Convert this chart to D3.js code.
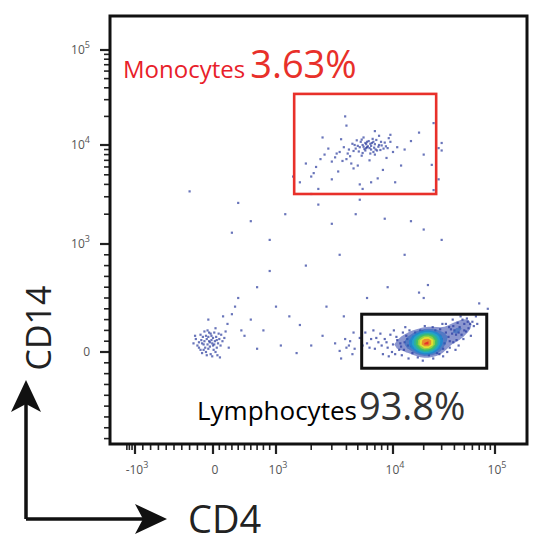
<!DOCTYPE html>
<html>
<head>
<meta charset="utf-8">
<script src="https://cdn.jsdelivr.net/npm/d3@7.9.0/dist/d3.min.js"></script>
<style>
  body { margin: 0; background: #fff; }
  svg { display: block; font-family: "Open Sans", Arial, sans-serif; }
</style>
</head>
<body>
<svg id="chart" width="553" height="547"></svg>
<script>
// events as [CD4, CD14] fluorescence intensities
const lymphocytes = [
  [21000,80],[19000,60],[23000,110],[25000,40],[18000,120],[22000,20],[20000,150],[26000,90],[17000,70],[24000,130],
  [16000,40],[28000,60],[15000,100],[30000,120],[14000,60],[27000,-10],[19500,190],[22500,-30],[13000,90],[32000,80],
  [12000,50],[35000,140],[11000,110],[38000,170],[10000,70],[40000,200],[9000,40],[42000,110],[8500,120],[45000,230],
  [8000,60],[47000,160],[7500,90],[50000,260],[7000,30],[52000,190],[6500,120],[55000,220],[6000,80],[33000,260],
  [9500,160],[36000,40],[10500,-20],[29000,210],[12500,180],[31000,-40],[14500,200],[24500,230],[17500,-50],[20500,240],
  [11500,20],[13500,150],[15500,-10],[18500,200],[26500,170],[34000,0],[37000,210],[43000,270],[48000,300],[9200,-40],
  [7800,170],[6800,200],[21500,100],[20800,70],[22800,90],[19800,110],[23500,60],[21200,140],[18800,90],[24200,100],
  [20200,40],[22200,130],[16800,110],[25500,120],[17800,30],[27500,100],[15800,140],[19200,10],[23800,170],[21800,50],
  [60000,280],[58000,150],[44000,60],[39000,90],[41000,20],[5500,60],[5200,130],[62000,240],[46000,330],[53000,310],
  [21000,90],[20500,75],[21800,85],[19800,80],[22500,95],[20000,100],[21300,60],[22000,70],[20800,110],[19300,95],
  [23000,85],[18500,75],[21500,120],[20300,50],[22800,60],[19000,115],[24000,80],[18000,95],[21000,40],[23500,120],
  [17000,90],[25500,75],[16000,70],[27000,120],[15000,55],[29000,150],[13800,120],[31000,30],[12800,20],[26000,200],
  [11800,80],[33000,180],[10800,140],[36000,100],[9800,0],[39000,240],[8800,90],[44000,180],[7200,130],[50000,200],
  [14200,-60],[24800,-60],[16500,180],[28500,-20],[12200,-30],[35500,230],[8200,-20],[41500,160],[6300,40],[57000,260],
  [49000,120],[54000,280],[65000,330],[67000,260],[5800,180],[10200,200],[30500,260],[13200,230],[38500,300],[19600,-80]
];
const monocytes = [
  [6000,9500],[5500,10000],[6500,9000],[5000,9800],[7000,10200],[5800,8800],[6200,11000],[4800,9200],[7500,9600],[5300,10800],
  [6800,8500],[4500,10300],[8000,9900],[5600,12000],[6400,8200],[4200,9000],[7200,11300],[5100,8600],[8500,10600],[3800,9500],
  [6600,10500],[5900,9300],[4900,11200],[7800,8900],[5400,7800],[3500,8500],[3200,7500],[2800,9200],[3000,6800],[2600,8000],
  [4000,7200],[9000,9300],[9500,10800],[10000,8500],[4400,6500],[3600,11500],[2400,7200],[6300,7000],[7600,12500],[5000,6200],
  [2200,6000],[2100,5200],[2000,4800],[3400,5400],[4600,5800],[11000,9500],[8800,7400],[12000,6200],[2500,12000],[7000,14000],
  [15000,11000],[20000,8000],[24000,6300],[30000,10500],[28000,4500],[4000,16000],[9500,12800],[3000,4500],[8200,5600],[13000,9000],
  [6100,9700],[5700,9100],[6900,9400],[6400,10300],[5200,9500],[7300,8800],[6700,11600],[5500,8300],[7900,10800],[4600,8700],
  [8300,9200],[6000,10800],[7100,9000],[5900,10200],[6500,9800],[4300,7700],[3700,6900],[3300,8200],[9200,11800],[1800,6500],
  [1600,4200],[2300,3600],[5200,4000],[7400,4600],[10500,4200],[25000,17000],[3900,20000],[18000,13500],
  [6300,9300],[5600,9600],[7600,10000],[4700,10000],[6800,10800],[5400,11400],[8700,9700],[4100,8200],[7000,8000],[5800,10500]
];
const doubleNegative = [
  [-40,90],[-80,120],[0,60],[-120,70],[30,100],[-60,30],[-150,110],[50,140],[-20,150],[-100,40],
  [10,20],[-180,90],[80,80],[-50,180],[-130,140],[60,40],[-200,60],[20,180],[-90,0],[100,120],
  [-30,-20],[-160,20],[120,60],[-70,200],[40,220],[-220,120],[150,100],[-10,-40],[-110,190],[90,170],
  [-250,80],[180,130],[-140,-10],[70,-30],[200,190],[230,260],[160,330],[-60,300],[250,40],[110,-50],
  [-50,100],[-70,70],[-20,110],[-110,100],[0,130],[-90,150],[-40,50],[-140,80],[20,70],[-60,140],
  [-180,40],[60,110],[-30,170],[-120,20],[130,160],[-230,150],[-80,-30],[40,0],[-10,80],[-160,160]
];
const scattered = [
  [400,2600],[600,1700],[300,1300],[900,1100],[1400,4800],[2000,3200],[2300,2500],[1200,2000],[3000,1600],[4800,2000],
  [5500,3600],[5200,2800],[8500,1800],[3500,900],[1800,800],[900,750],[700,600],[400,500],[300,350],[600,300],
  [1000,420],[1600,250],[2500,150],[3200,80],[4000,40],[4300,100],[1100,60],[700,30],[1500,-10],[2000,60],
  [15000,1700],[20000,1400],[30000,1100],[13000,900],[18000,550],[70000,450],[85000,400],[9000,600],[6000,500],[3800,330],
  [1300,330],[800,200],[500,150],[2700,420],[4600,180],[3500,10],[25000,3500],[6500,4200],[28000,9300],[30000,8800],
  [4200,60],[4500,-20],[3900,120],[4700,30],[3600,-60],[20000,500],[22000,620],[-300,3400],[350,420],[450,200]
];

const xTickVals = [-1000, 0, 1000, 10000, 100000];
const yTickVals = [0, 1000, 10000, 100000];
const gateMono = { x: [1430, 26500], y: [3200, 34500], name: "Monocytes", pct: "3.63%" };
const gateLymph = { x: [5400, 83000], y: [-150, 350], name: "Lymphocytes", pct: "93.8%" };

// display transform: linear around zero, log above |1000|
function dec(v) {
  const a = Math.abs(v);
  const d = a <= 1000 ? a / 1000 : Math.log10(a) - 2;
  return v < 0 ? -d : d;
}
const x = d3.scaleLinear().domain([-1.35, -1, 0, 1, 2, 3, 3.31]).range([110, 135, 213, 276, 393, 495, 527]);
const y = d3.scaleLinear().domain([-0.85, 0, 1, 2, 3, 3.36]).range([444, 352, 244, 145, 50, 16]);
const px = v => x(dec(v)), py = v => y(dec(v));

const svg = d3.select("#chart");

// minor ticks for log decades and linear region
function minorTicks(maxDec) {
  const t = [];
  for (let e = 3; e < maxDec; e++) for (let m = 2; m <= 9; m++) t.push(m * 10 ** e);
  for (let v = -900; v <= 900; v += 100) if (v !== 0) t.push(v);
  return t;
}

// y axis
const gy = svg.append("g");
gy.append("g").selectAll("line").data(minorTicks(5).concat([-1000]).filter(v => py(v) > 18 && py(v) < 442))
  .join("line").attr("x1", 104).attr("x2", 110).attr("y1", py).attr("y2", py)
  .attr("stroke", "#222").attr("stroke-width", 1.6);
gy.append("g").selectAll("line").data(yTickVals)
  .join("line").attr("x1", 100).attr("x2", 110).attr("y1", py).attr("y2", py)
  .attr("stroke", "#222").attr("stroke-width", 2.2);

// x axis
const gx = svg.append("g");
gx.append("g").selectAll("line").data(minorTicks(5).concat([-1100, -1200, -1300]).filter(v => px(v) > 112 && px(v) < 525))
  .join("line").attr("y1", 444).attr("y2", 450).attr("x1", px).attr("x2", px)
  .attr("stroke", "#222").attr("stroke-width", 1.6);
gx.append("g").selectAll("line").data(xTickVals)
  .join("line").attr("y1", 444).attr("y2", 454).attr("x1", px).attr("x2", px)
  .attr("stroke", "#222").attr("stroke-width", 2.2);

function tickLabel(g, v, tx, ty, anchor) {
  const t = g.append("text").attr("x", tx).attr("y", ty).attr("text-anchor", anchor)
    .attr("fill", "#555").attr("font-size", 12);
  if (v === 0) { t.text("0"); return; }
  const e = Math.round(Math.log10(Math.abs(v)));
  t.append("tspan").text((v < 0 ? "-" : "") + "10");
  t.append("tspan").attr("dy", -6).attr("font-size", 9).text(e);
}
yTickVals.forEach(v => tickLabel(gy, v, 90, py(v) + 4, "end"));
xTickVals.forEach(v => tickLabel(gx, v, px(v) + 2, 474, "middle"));

// frame
svg.append("rect").attr("x", x(-1.35)).attr("y", y(3.36))
  .attr("width", x(3.31) - x(-1.35)).attr("height", y(-0.85) - y(3.36))
  .attr("fill", "none").attr("stroke", "#111").attr("stroke-width", 3);

// events
const dotColor = "#2a3b9c";
const dot = 2.2;
const others = monocytes.concat(doubleNegative, scattered);
svg.append("g").selectAll("rect").data(others).join("rect")
  .attr("x", d => px(d[0]) - dot / 2).attr("y", d => py(d[1]) - dot / 2)
  .attr("width", dot).attr("height", dot).attr("fill", dotColor).attr("opacity", 0.7);

// lymphocyte events, then density core as filled contours
svg.append("g").selectAll("rect").data(lymphocytes).join("rect")
  .attr("x", d => px(d[0]) - dot / 2).attr("y", d => py(d[1]) - dot / 2)
  .attr("width", dot).attr("height", dot).attr("fill", dotColor).attr("opacity", 0.75);
const lp = lymphocytes.map(d => [px(d[0]), py(d[1])]);
const contours = d3.contourDensity().x(d => d[0]).y(d => d[1])
  .size([553, 547]).bandwidth(5).thresholds(12)(lp);
const n = contours.length;
const pal = d3.scaleLinear().domain([0, 0.3, 0.55, 0.78, 1])
  .range(["#2c3fa8", "#1fa0d8", "#40c060", "#e8e030", "#e8302a"]);
svg.append("g").selectAll("path").data(contours.slice(2)).join("path")
  .attr("d", d3.geoPath()).attr("fill", (d, i) => pal(i / (n - 3)))
  .attr("opacity", (d, i) => i < 2 ? 0.55 : 0.95);

// gates
svg.append("rect").attr("x", px(gateMono.x[0])).attr("y", py(gateMono.y[1]))
  .attr("width", px(gateMono.x[1]) - px(gateMono.x[0])).attr("height", py(gateMono.y[0]) - py(gateMono.y[1]))
  .attr("fill", "none").attr("stroke", "#e8302a").attr("stroke-width", 2.6);
svg.append("rect").attr("x", px(gateLymph.x[0])).attr("y", py(gateLymph.y[1]))
  .attr("width", px(gateLymph.x[1]) - px(gateLymph.x[0])).attr("height", py(gateLymph.y[0]) - py(gateLymph.y[1]))
  .attr("fill", "none").attr("stroke", "#111").attr("stroke-width", 3);

// gate labels
const ml = svg.append("text").attr("x", 123).attr("y", 78);
ml.append("tspan").attr("fill", "#e8202a").attr("font-size", 24).text(gateMono.name);
ml.append("tspan").attr("fill", "#e8302a").attr("font-size", 38).attr("dx", 5).text(gateMono.pct);
const ll = svg.append("text").attr("x", 197).attr("y", 420);
ll.append("tspan").attr("fill", "#000").attr("font-size", 26).text(gateLymph.name);
ll.append("tspan").attr("fill", "#333").attr("font-size", 38).attr("dx", 2).text(gateLymph.pct);

// axis titles with arrows
svg.append("path").attr("d", "M26,519 V392 M26,519 H155").attr("stroke", "#111").attr("stroke-width", 3.5).attr("fill", "none");
svg.append("path").attr("d", "M26,380 L11,412 L26,404 L41,412 Z").attr("fill", "#111");
svg.append("path").attr("d", "M167,519 L135,504 L143,519 L135,534 Z").attr("fill", "#111");
svg.append("text").attr("transform", "translate(51,328) rotate(-90)").attr("text-anchor", "middle")
  .attr("font-size", 34).attr("fill", "#222").text("CD14");
svg.append("text").attr("x", 188).attr("y", 533).attr("font-size", 38).attr("fill", "#222").text("CD4");
</script>
</body>
</html>
